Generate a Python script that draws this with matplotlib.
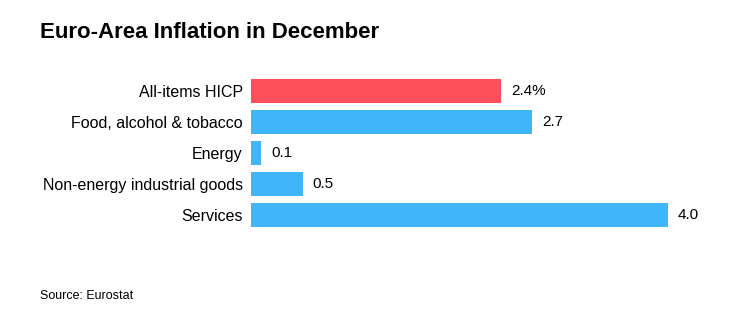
import matplotlib
matplotlib.use("Agg")
import matplotlib.pyplot as plt

categories = ["All-items HICP", "Food, alcohol & tobacco", "Energy",
              "Non-energy industrial goods", "Services"]
values = [2.4, 2.7, 0.1, 0.5, 4.0]
value_labels = ["2.4%", "2.7", "0.1", "0.5", "4.0"]
colors = ["#FF4F5B", "#41B5F9", "#41B5F9", "#41B5F9", "#41B5F9"]

plt.rcParams['font.family'] = ['Liberation Sans', 'DejaVu Sans']

fig = plt.figure(figsize=(7.44, 3.27), dpi=100)
W, H = 744, 327
ax = fig.add_axes([251 / W, 1 - 230.5 / H, 417 / W, 155 / H])

ypos = list(range(len(categories)))
ax.barh(ypos, values, height=0.78, color=colors)
ax.set_xlim(0, 4.0)
ax.set_ylim(len(categories) - 0.5, -0.5)
for s in ax.spines.values():
    s.set_visible(False)
ax.set_xticks([])
ax.set_yticks(ypos)
ax.set_yticklabels(categories, fontsize=11.5)
ax.tick_params(axis='y', length=0, pad=6)

for y, v, lab in zip(ypos, values, value_labels):
    ax.annotate(lab, xy=(v, y), xytext=(7, 0), textcoords='offset points',
                va='center', ha='left', fontsize=11, annotation_clip=False)

fig.text(40 / W, 1 - 33 / H, "Euro-Area Inflation in December", fontsize=16,
         fontweight='bold', va='center', ha='left')
fig.text(40 / W, 1 - 296 / H, "Source: Eurostat", fontsize=9,
         va='center', ha='left')

fig.savefig("out.png", dpi=100)
